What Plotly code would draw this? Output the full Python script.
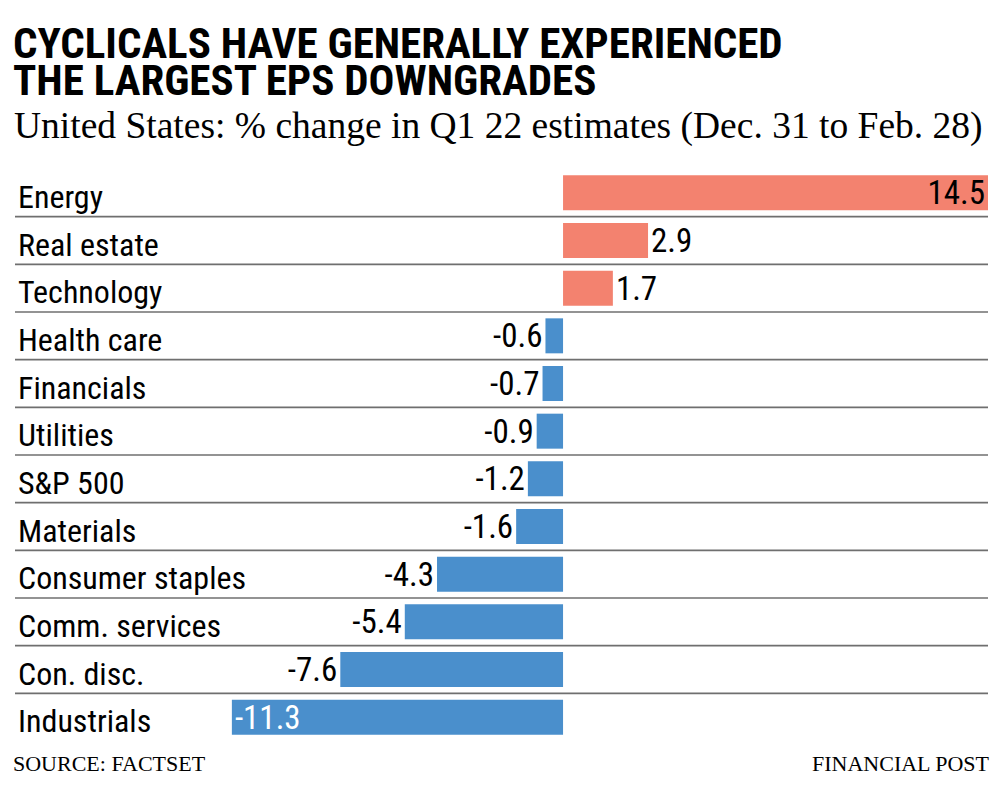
import plotly.graph_objects as go

categories = ["Energy", "Real estate", "Technology", "Health care", "Financials",
              "Utilities", "S&P 500", "Materials", "Consumer staples",
              "Comm. services", "Con. disc.", "Industrials"]
values = [14.5, 2.9, 1.7, -0.6, -0.7, -0.9, -1.2, -1.6, -4.3, -5.4, -7.6, -11.3]
value_labels = ["14.5", "2.9", "1.7", "-0.6", "-0.7", "-0.9", "-1.2", "-1.6",
                "-4.3", "-5.4", "-7.6", "-11.3"]

POS = "#f3826f"
NEG = "#4a8fcc"
COND = "Roboto Condensed, Liberation Sans Narrow, DejaVu Sans Condensed, Liberation Sans"

colors = [POS if v > 0 else NEG for v in values]
positions = ["inside" if abs(v) > 10 else "outside" for v in values]
txt_colors = [("white" if v < 0 else "black") if abs(v) > 10 else "black" for v in values]

W, Hh = 1001, 789
OFF = 8  # page offset of the figure inside the browser window
L, R, T, B = 15 - OFF, W - (988 - OFF), 169 - OFF, Hh - (741 - OFF)

fig = go.Figure(go.Bar(
    x=values, y=categories, orientation="h",
    marker=dict(color=colors, line=dict(width=0)),
    text=value_labels, textposition=positions,
    insidetextanchor="end",
    textfont=dict(family=COND, size=33, color=txt_colors),
    constraintext="none", cliponaxis=False,
    hoverinfo="skip",
))

shapes = []
for i in range(len(categories) - 1):
    shapes.append(dict(type="line", xref="paper", yref="y",
                       x0=0, x1=1, y0=i + 0.5, y1=i + 0.5,
                       line=dict(color="#6f6f6f", width=1.6), layer="below"))

PH = Hh - T - B
PW = W - L - R
def py(pix):
    return (Hh - B - (pix - OFF)) / PH
def px(pix):
    return ((pix - OFF) - L) / PW

fig.update_layout(
    width=W, height=Hh,
    margin=dict(l=L, r=R, t=T, b=B),
    paper_bgcolor="white", plot_bgcolor="white",
    showlegend=False, bargap=0.266,
    shapes=shapes,
    xaxis=dict(range=[-18.70, 14.5], visible=False, fixedrange=True),
    yaxis=dict(categoryorder="array", categoryarray=categories,
               autorange="reversed", showgrid=False, zeroline=False,
               showline=False, ticks="", ticklabelposition="inside",
               ticklabelstandoff=0, ticklabelshift=-4,
               tickfont=dict(family=COND, size=32, color="black")),
    annotations=[
        dict(text="CYCLICALS HAVE GENERALLY EXPERIENCED",
             xref="paper", yref="paper", x=px(11), y=py(16), xanchor="left", yanchor="top",
             showarrow=False, align="left",
             font=dict(family=COND, size=43, color="black", weight="bold")),
        dict(text="THE LARGEST EPS DOWNGRADES",
             xref="paper", yref="paper", x=px(11), y=py(53), xanchor="left", yanchor="top",
             showarrow=False, align="left",
             font=dict(family=COND, size=43, color="black", weight="bold")),
        dict(text="United States: % change in Q1 22 estimates (Dec. 31 to Feb. 28)",
             xref="paper", yref="paper", x=px(12), y=py(103), xanchor="left", yanchor="top",
             showarrow=False, align="left",
             font=dict(family="Liberation Serif", size=37.5, color="black")),
        dict(text="SOURCE: FACTSET", xref="paper", yref="paper", x=px(11), y=py(749),
             xanchor="left", yanchor="top", showarrow=False,
             font=dict(family="Liberation Serif", size=22, color="black")),
        dict(text="FINANCIAL POST", xref="paper", yref="paper", x=px(992), y=py(749),
             xanchor="right", yanchor="top", showarrow=False,
             font=dict(family="Liberation Serif", size=22, color="black")),
    ],
)

fig.write_html("out.html")
